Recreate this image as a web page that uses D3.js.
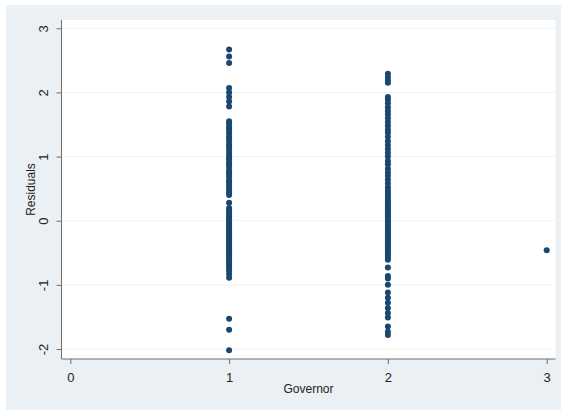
<!DOCTYPE html>
<html>
<head>
<meta charset="utf-8">
<script src="https://cdn.jsdelivr.net/npm/d3@7"></script>
<style>
  html, body { margin: 0; padding: 0; background: #ffffff; }
  svg { display: block; font-family: "Liberation Sans", Arial, sans-serif; }
</style>
</head>
<body>
<svg id="chart" width="561" height="411"></svg>
<script>
// Residuals by governor group
const governorLevels = [1, 2, 3];

const residualsGov1 = [
  2.67, 2.56, 2.46, 2.07, 2.00, 1.93, 1.86, 1.78,
  1.55, 1.52, 1.47, 1.44, 1.40, 1.36, 1.31, 1.28, 1.24, 1.19, 1.15, 1.12,
  1.07, 1.03, 0.99, 0.96, 0.91, 0.88, 0.84, 0.79, 0.75, 0.72, 0.68, 0.63,
  0.60, 0.56, 0.52, 0.48, 0.44, 0.40, 0.28, 0.20, 0.16, 0.13, 0.10, 0.06,
  0.03, 0.01, -0.02, -0.05, -0.08, -0.10, -0.13, -0.16, -0.18, -0.21, -0.24,
  -0.27, -0.29, -0.32, -0.35, -0.38, -0.40, -0.43, -0.46, -0.49, -0.52,
  -0.55, -0.58, -0.61, -0.64, -0.68, -0.71, -0.75, -0.78, -0.83, -0.89,
  -1.53, -1.70, -2.02
];

const residualsGov2 = [
  2.29, 2.24, 2.19, 2.15, 1.93, 1.89, 1.83, 1.77, 1.71, 1.66, 1.60, 1.54,
  1.48, 1.42, 1.37, 1.31, 1.24, 1.18, 1.12, 1.06, 1.00, 0.93, 0.88, 0.81,
  0.75, 0.70, 0.64, 0.58, 0.52, 0.47, 0.43, 0.39, 0.35, 0.31, 0.28, 0.25,
  0.21, 0.18, 0.15, 0.12, 0.09, 0.06, 0.03, 0.00, -0.02, -0.05, -0.08,
  -0.11, -0.14, -0.17, -0.20, -0.23, -0.26, -0.29, -0.32, -0.35, -0.38,
  -0.41, -0.44, -0.47, -0.50, -0.54, -0.58, -0.61, -0.73, -0.86, -0.90,
  -1.00, -1.12, -1.20, -1.28, -1.36, -1.44, -1.51, -1.65, -1.73, -1.78
];

const residualsGov3 = [-0.46];

const xTickValues = [0, 1, 2, 3];
const yTickValues = [-2, -1, 0, 1, 2, 3];

const xTitle = "Governor";
const yTitle = "Residuals";

// Assemble point records from the group arrays
const groups = [residualsGov1, residualsGov2, residualsGov3];
const points = [];
groups.forEach((vals, i) => {
  vals.forEach(v => points.push({ gov: governorLevels[i], res: v }));
});

const svg = d3.select("#chart");

// Outer graph region
svg.append("rect")
  .attr("x", 6).attr("y", 5)
  .attr("width", 555).attr("height", 405)
  .attr("fill", "#eaf0f3");

// Plot region
const plot = { left: 61.5, right: 555.5, top: 20, bottom: 359 };
svg.append("rect")
  .attr("x", plot.left).attr("y", plot.top)
  .attr("width", plot.right - plot.left).attr("height", plot.bottom - plot.top)
  .attr("fill", "#ffffff");

const x = d3.scaleLinear().domain([0, 3]).range([70.3, 546.7]);
const y = d3.scaleLinear().domain([-2, 3]).range([349, 28.3]);

// Horizontal grid lines
svg.append("g")
  .selectAll("line")
  .data(yTickValues)
  .join("line")
  .attr("x1", plot.left + 1).attr("x2", plot.right)
  .attr("y1", d => y(d)).attr("y2", d => y(d))
  .attr("stroke", "#eef2f4")
  .attr("stroke-width", 1);

// Y axis
const yAxis = svg.append("g")
  .attr("transform", `translate(${plot.left},0)`)
  .call(d3.axisLeft(y).tickValues(yTickValues).tickSize(5).tickSizeOuter(0).tickFormat(d3.format("d")));
yAxis.select(".domain")
  .attr("d", `M0,${plot.top}V${plot.bottom}`)
  .attr("stroke", "#6d6d6d");
yAxis.selectAll(".tick line").attr("stroke", "#6d6d6d");
yAxis.selectAll(".tick text")
  .attr("x", 0).attr("y", 0).attr("dy", null)
  .attr("text-anchor", "middle")
  .attr("transform", "translate(-18,0) rotate(-90)")
  .attr("dominant-baseline", "central")
  .attr("font-size", 13)
  .attr("fill", "#222")
  .text(d => d3.format("d")(d).replace("\u2212", "-"));

// X axis
const xAxis = svg.append("g")
  .attr("transform", `translate(0,${plot.bottom})`)
  .call(d3.axisBottom(x).tickValues(xTickValues).tickSize(5).tickSizeOuter(0).tickFormat(d3.format("d")));
xAxis.select(".domain")
  .attr("d", `M${plot.left},0H${plot.right}`)
  .attr("stroke", "#6d6d6d");
xAxis.selectAll(".tick line").attr("stroke", "#6d6d6d");
xAxis.selectAll(".tick text")
  .attr("y", 18).attr("dy", null)
  .attr("dominant-baseline", "central")
  .attr("font-size", 13)
  .attr("fill", "#222");

// Axis titles
svg.append("text")
  .attr("x", (plot.left + plot.right) / 2)
  .attr("y", 389)
  .attr("text-anchor", "middle")
  .attr("dominant-baseline", "central")
  .attr("font-size", 12)
  .attr("fill", "#222")
  .text(xTitle);

svg.append("text")
  .attr("transform", `translate(31,${(plot.top + plot.bottom) / 2}) rotate(-90)`)
  .attr("text-anchor", "middle")
  .attr("dominant-baseline", "central")
  .attr("font-size", 12)
  .attr("fill", "#222")
  .text(yTitle);

// Residual points
svg.append("g")
  .selectAll("circle")
  .data(points)
  .join("circle")
  .attr("cx", d => x(d.gov))
  .attr("cy", d => y(d.res))
  .attr("r", 3)
  .attr("fill", "#1a476f");
</script>
</body>
</html>
